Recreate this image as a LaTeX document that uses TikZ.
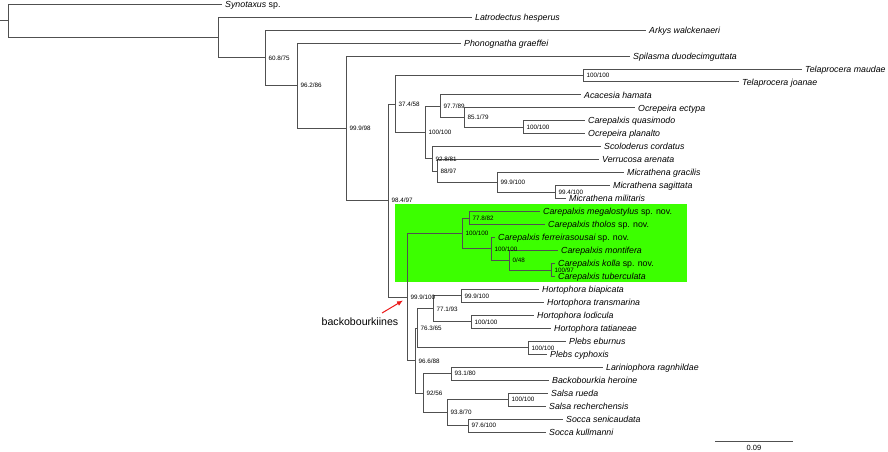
\documentclass[tikz,border=0pt]{standalone}
\usepackage{fontspec}
\setmainfont{Liberation Sans}
\usetikzlibrary{arrows.meta}
\definecolor{branch}{RGB}{80,80,80}
\definecolor{clade}{RGB}{60,255,0}
\definecolor{arrowred}{RGB}{235,25,25}
\begin{document}
\begin{tikzpicture}[x=1pt,y=-1pt,
  br/.style={draw=branch,line width=0.75pt},
  tip/.style={anchor=west,inner xsep=3pt,inner ysep=0pt,text height=6.4pt,text depth=0pt,font=\fontsize{8.8}{10}\selectfont\itshape},
  sup/.style={anchor=west,inner sep=0pt,xshift=3.5pt,text height=4.6pt,text depth=0pt,font=\fontsize{6.3}{7}\selectfont},
  callout/.style={font=\fontsize{10.6}{12}\selectfont,inner sep=0pt}
]
\useasboundingbox (0,0) rectangle (888,451);
% highlighted clade
\fill[clade] (395,204) rectangle (687,282);

% internal nodes
\coordinate (r0) at (0,20.7);
\coordinate (root) at (8,20.7);
\coordinate (A) at (218,37.35);
\coordinate (B) at (265,57.7);
\coordinate (C) at (297,85.55);
\coordinate (D) at (346,128.2);
\coordinate (E) at (388,200.5);
\coordinate (F) at (395,103.9);
\coordinate (TEL) at (583,75.35);
\coordinate (G) at (425,132.5);
\coordinate (H) at (440,106.15);
\coordinate (I) at (464,117.5);
\coordinate (J) at (523,127.2);
\coordinate (K) at (432,158.84);
\coordinate (L) at (437,170.98);
\coordinate (M) at (497,182.35);
\coordinate (N) at (555,192.1);
\coordinate (Q) at (407,297.05);
\coordinate (R) at (462,233.4);
\coordinate (S) at (469,218);
\coordinate (T) at (491,248.8);
\coordinate (U) at (509,260.15);
\coordinate (V) at (551,269.9);
\coordinate (W) at (415,360.7);
\coordinate (W2) at (417,328.25);
\coordinate (X) at (433,308.8);
\coordinate (Y) at (461,295.8);
\coordinate (Z) at (471,321.8);
\coordinate (PL) at (528,347.7);
\coordinate (AA) at (423,393.1);
\coordinate (AB) at (451,373.65);
\coordinate (AC) at (447,412.55);
\coordinate (AD) at (508,399.6);
\coordinate (AE) at (468,425.5);

% tips
\node[tip] (t0) at (222,4.0) {Synotaxus {\upshape sp.}};
\node[tip] (t1) at (472,17.0) {Latrodectus hesperus};
\node[tip] (t2) at (646,29.9) {Arkys walckenaeri};
\node[tip] (t3) at (461,42.9) {Phonognatha graeffei};
\node[tip] (t4) at (630,55.9) {Spilasma duodecimguttata};
\node[tip] (t5) at (802,68.9) {Telaprocera maudae};
\node[tip] (t6) at (739,81.8) {Telaprocera joanae};
\node[tip] (t7) at (581,94.8) {Acacesia hamata};
\node[tip] (t8) at (635,107.8) {Ocrepeira ectypa};
\node[tip] (t9) at (585,120.7) {Carepalxis quasimodo};
\node[tip] (t10) at (585,133.7) {Ocrepeira planalto};
\node[tip] (t11) at (601,146.7) {Scoloderus cordatus};
\node[tip] (t12) at (599,159.6) {Verrucosa arenata};
\node[tip] (t13) at (624,172.6) {Micrathena gracilis};
\node[tip] (t14) at (610,185.6) {Micrathena sagittata};
\node[tip] (t15) at (566,198.6) {Micrathena militaris};
\node[tip] (t16) at (540,211.5) {Carepalxis megalostylus {\upshape sp. nov.}};
\node[tip] (t17) at (545,224.5) {Carepalxis tholos {\upshape sp. nov.}};
\node[tip] (t18) at (495,237.5) {Carepalxis ferreirasousai {\upshape sp. nov.}};
\node[tip] (t19) at (558,250.4) {Carepalxis montifera};
\node[tip] (t20) at (555,263.4) {Carepalxis kolla {\upshape sp. nov.}};
\node[tip] (t21) at (555,276.4) {Carepalxis tuberculata};
\node[tip] (t22) at (539,289.3) {Hortophora biapicata};
\node[tip] (t23) at (544,302.3) {Hortophora transmarina};
\node[tip] (t24) at (534,315.3) {Hortophora lodicula};
\node[tip] (t25) at (551,328.3) {Hortophora tatianeae};
\node[tip] (t26) at (566,341.2) {Plebs eburnus};
\node[tip] (t27) at (547,354.2) {Plebs cyphoxis};
\node[tip] (t28) at (603,367.2) {Lariniophora ragnhildae};
\node[tip] (t29) at (549,380.1) {Backobourkia heroine};
\node[tip] (t30) at (548,393.1) {Salsa rueda};
\node[tip] (t31) at (546,406.1) {Salsa recherchensis};
\node[tip] (t32) at (563,419.0) {Socca senicaudata};
\node[tip] (t33) at (546,432.0) {Socca kullmanni};

% branches
\draw[br] (r0) -- (root);
\draw[br] (root) |- (t0.west);  \draw[br] (root) |- (A);
\draw[br] (A) |- (t1.west);     \draw[br] (A) |- (B);
\draw[br] (B) |- (t2.west);     \draw[br] (B) |- (C);
\draw[br] (C) |- (t3.west);     \draw[br] (C) |- (D);
\draw[br] (D) |- (t4.west);     \draw[br] (D) |- (E);
\draw[br] (E) |- (F);           \draw[br] (E) |- (Q);
\draw[br] (F) |- (TEL);         \draw[br] (F) |- (G);
\draw[br] (TEL) |- (t5.west);   \draw[br] (TEL) |- (t6.west);
\draw[br] (G) |- (H);           \draw[br] (G) |- (K);
\draw[br] (H) |- (t7.west);     \draw[br] (H) |- (I);
\draw[br] (I) |- (t8.west);     \draw[br] (I) |- (J);
\draw[br] (J) |- (t9.west);     \draw[br] (J) |- (t10.west);
\draw[br] (K) |- (t11.west);    \draw[br] (K) |- (L);
\draw[br] (L) |- (t12.west);    \draw[br] (L) |- (M);
\draw[br] (M) |- (t13.west);    \draw[br] (M) |- (N);
\draw[br] (N) |- (t14.west);    \draw[br] (N) |- (t15.west);
\draw[br] (Q) |- (R);           \draw[br] (Q) |- (W);
\draw[br] (R) |- (S);           \draw[br] (R) |- (T);
\draw[br] (S) |- (t16.west);    \draw[br] (S) |- (t17.west);
\draw[br] (T) |- (t18.west);    \draw[br] (T) |- (U);
\draw[br] (U) |- (t19.west);    \draw[br] (U) |- (V);
\draw[br] (V) |- (t20.west);    \draw[br] (V) |- (t21.west);
\draw[br] (W) |- (W2);          \draw[br] (W) |- (AA);
\draw[br] (W2) |- (X);          \draw[br] (W2) |- (PL);
\draw[br] (X) |- (Y);           \draw[br] (X) |- (Z);
\draw[br] (Y) |- (t22.west);    \draw[br] (Y) |- (t23.west);
\draw[br] (Z) |- (t24.west);    \draw[br] (Z) |- (t25.west);
\draw[br] (PL) |- (t26.west);   \draw[br] (PL) |- (t27.west);
\draw[br] (AA) |- (AB);         \draw[br] (AA) |- (AC);
\draw[br] (AB) |- (t28.west);   \draw[br] (AB) |- (t29.west);
\draw[br] (AC) |- (AD);         \draw[br] (AC) |- (AE);
\draw[br] (AD) |- (t30.west);   \draw[br] (AD) |- (t31.west);
\draw[br] (AE) |- (t32.west);   \draw[br] (AE) |- (t33.west);

% support values
\node[sup] (lB) at (B) {60.8/75};
\node[sup] (lC) at (C) {96.2/86};
\node[sup] (lD) at (D) {99.9/98};
\node[sup] (lE) at (E) {98.4/97};
\node[sup] (lF) at (F) {37.4/58};
\node[sup] (lTEL) at (TEL) {100/100};
\node[sup] (lG) at (G) {100/100};
\node[sup] (lH) at (H) {97.7/89};
\node[sup] (lI) at (I) {85.1/79};
\node[sup] (lJ) at (J) {100/100};
\node[sup] (lK) at (K) {92.8/81};
\node[sup] (lL) at (L) {88/97};
\node[sup] (lM) at (M) {99.9/100};
\node[sup] (lN) at (N) {99.4/100};
\node[sup] (lQ) at (Q) {99.9/100};
\node[sup] (lR) at (R) {100/100};
\node[sup] (lS) at (S) {77.8/82};
\node[sup] (lT) at (T) {100/100};
\node[sup] (lU) at (U) {0/48};
\node[sup] (lV) at (V) {100/97};
\node[sup] (lW) at (W) {96.6/88};
\node[sup] (lW2) at (W2) {76.3/65};
\node[sup] (lX) at (X) {77.1/93};
\node[sup] (lY) at (Y) {99.9/100};
\node[sup] (lZ) at (Z) {100/100};
\node[sup] (lPL) at (PL) {100/100};
\node[sup] (lAA) at (AA) {92/56};
\node[sup] (lAB) at (AB) {93.1/80};
\node[sup] (lAC) at (AC) {93.8/70};
\node[sup] (lAD) at (AD) {100/100};
\node[sup] (lAE) at (AE) {97.6/100};

% callout
\node[callout] (bk) at (360,322) {backobourkiines};
\coordinate (arT) at (382,313);
\coordinate (arH) at (403,300.5);
\draw[arrowred,line width=1pt,-{Latex[length=6pt,width=5pt]}] (arT) -- (arH);

% scale bar
\coordinate (sb1) at (715,441);
\coordinate (sb2) at (793,441);
\draw[br] (sb1) -- (sb2);
\node[font=\fontsize{7.5}{9}\selectfont,inner sep=0pt] (sbl) at (754,447.5) {0.09};
\end{tikzpicture}
\end{document}
